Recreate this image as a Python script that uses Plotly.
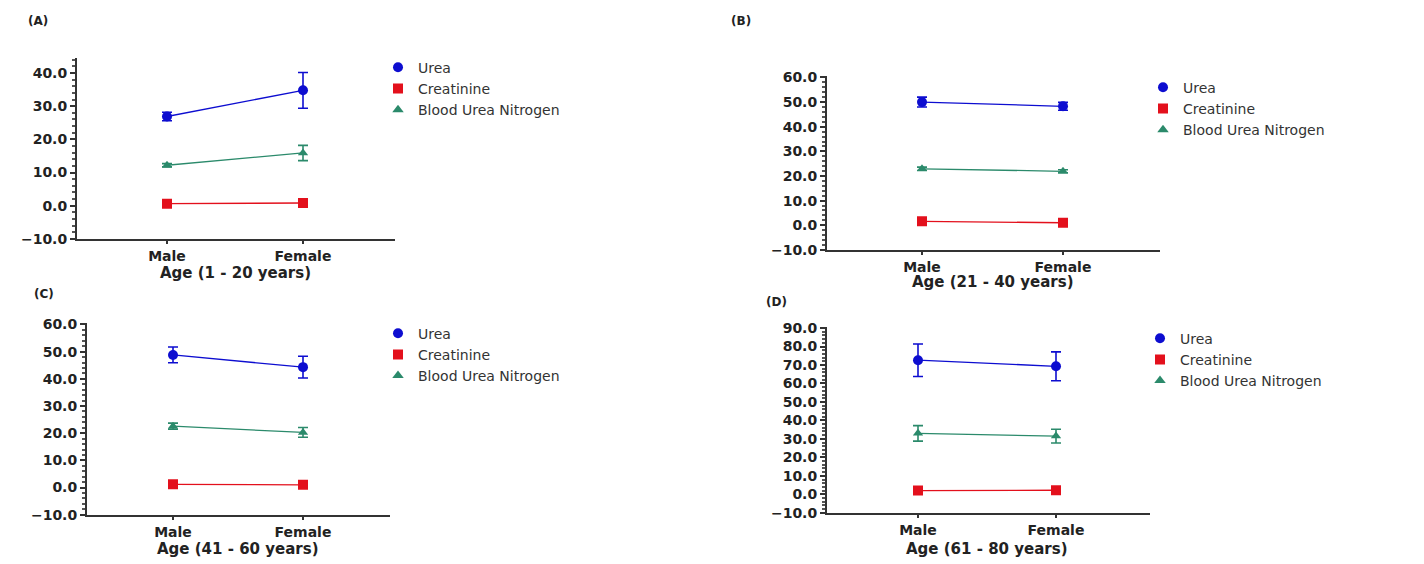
import plotly.graph_objects as go

W, H = 1424, 564
# vertical mapping of the photographed page (measured): shown_y = 7 + 0.97 * page_y
SY_A, SY_S = 7.0, 0.97

categories = ["Male", "Female"]
series_names = ["Urea", "Creatinine", "Blood Urea Nitrogen"]

# Panel A: Age 1-20
urea_A = [26.9, 34.8]
urea_sem_A = [1.3, 5.4]
creat_A = [0.6, 0.8]
creat_sem_A = [0.1, 0.1]
bun_A = [12.2, 15.9]
bun_sem_A = [0.5, 2.3]

# Panel B: Age 21-40
urea_B = [50.0, 48.3]
urea_sem_B = [2.0, 1.6]
creat_B = [1.6, 1.0]
creat_sem_B = [0.2, 0.2]
bun_B = [22.9, 21.9]
bun_sem_B = [0.7, 0.6]

# Panel C: Age 41-60
urea_C = [48.8, 44.3]
urea_sem_C = [2.9, 4.0]
creat_C = [1.2, 1.0]
creat_sem_C = [0.1, 0.1]
bun_C = [22.6, 20.3]
bun_sem_C = [1.1, 1.8]

# Panel D: Age 61-80
urea_D = [72.6, 69.3]
urea_sem_D = [8.8, 7.8]
creat_D = [2.0, 2.2]
creat_sem_D = [0.2, 0.2]
bun_D = [33.0, 31.5]
bun_sem_D = [4.2, 3.7]

panel_labels = ["(A)", "(B)", "(C)", "(D)"]
axis_titles = ["Age (1 - 20 years)", "Age (21 - 40 years)",
               "Age (41 - 60 years)", "Age (61 - 80 years)"]
y_ranges = [[-10, 44.5], [-10, 60.5], [-10, 60.5], [-10, 90.5]]

colors = ["#0d0dd0", "#e3101c", "#2b8a6b"]
symbols = ["circle", "square", "triangle-up"]

panels = [
    (urea_A, urea_sem_A, creat_A, creat_sem_A, bun_A, bun_sem_A),
    (urea_B, urea_sem_B, creat_B, creat_sem_B, bun_B, bun_sem_B),
    (urea_C, urea_sem_C, creat_C, creat_sem_C, bun_C, bun_sem_C),
    (urea_D, urea_sem_D, creat_D, creat_sem_D, bun_D, bun_sem_D),
]

# layout geometry in target picture pixels:
# (axis left, axis right, y bottom(-10), y top, male x, female x)
geom = [
    (77, 395, 238, 58, 167, 303),
    (827, 1160, 249, 76, 922, 1063),
    (87, 390, 513, 322, 173, 303),
    (827, 1150, 511, 326, 918, 1056),
]
legend_first_row = [(378, 68), (1143, 88), (378, 333), (1140, 338)]
label_pos = [(38, 21), (741, 21), (44, 293), (777, 301)]
title_y = [272, 281, 556, 547]


def px(x):
    return x / W


def py(y_shown):
    page = (y_shown - SY_A) / SY_S
    page = min(page, H - 7)
    return 1 - page / H


fig = go.Figure()
tick_font = dict(family="DejaVu Sans", size=14, color="#222222", weight="bold")

for i, data in enumerate(panels):
    xa = "x" if i == 0 else f"x{i+1}"
    ya = "y" if i == 0 else f"y{i+1}"
    lg = "legend" if i == 0 else f"legend{i+1}"
    vals = [(data[0], data[1]), (data[2], data[3]), (data[4], data[5])]
    for k, (v, e) in enumerate(vals):
        fig.add_trace(go.Scatter(
            x=[0, 1], y=v, mode="lines+markers", xaxis=xa, yaxis=ya,
            line=dict(color=colors[k], width=1.3),
            marker=dict(symbol=symbols[k], size=10 if k != 2 else 9, color=colors[k]),
            error_y=dict(type="data", array=e, visible=True, color=colors[k],
                         thickness=1.6, width=5),
            showlegend=False, name=series_names[k]))
    for k in range(3):
        fig.add_trace(go.Scatter(
            x=[None], y=[None], mode="markers", xaxis=xa, yaxis=ya,
            marker=dict(symbol=symbols[k], size=10, color=colors[k]),
            name=series_names[k], legend=lg, showlegend=True))

    x0, x1, yb, yt, xm, xf = geom[i]
    sp = xf - xm
    xr = [-(xm - x0) / sp, (x1 - xm) / sp]
    xkey = "xaxis" if i == 0 else f"xaxis{i+1}"
    ykey = "yaxis" if i == 0 else f"yaxis{i+1}"
    fig.update_layout(**{
        xkey: dict(domain=[px(x0), px(x1)], anchor=ya, range=xr,
                   tickvals=[0, 1], ticktext=categories, showgrid=False,
                   zeroline=False, showline=True, linecolor="#333333", linewidth=2,
                   ticks="outside", ticklen=3, tickwidth=1.5, tickcolor="#333333",
                   tickfont=tick_font),
        ykey: dict(domain=[py(yb), py(yt)], anchor=xa, range=y_ranges[i],
                   tickvals=list(range(-10, int(y_ranges[i][1]) + 1, 10)),
                   tickformat=".1f", showgrid=False, zeroline=False,
                   showline=True, linecolor="#333333", linewidth=2,
                   ticks="outside", ticklen=5, tickwidth=1.5, tickcolor="#333333",
                   minor=dict(ticks="outside", ticklen=3, dtick=2, tickcolor="#555555"),
                   tickfont=tick_font),
    })
    lx, lrow = legend_first_row[i]
    top_page = (lrow - SY_A) / SY_S - 17
    fig.update_layout(**{lg: dict(x=px(lx), y=1 - top_page / H, xanchor="left", yanchor="top",
                                  bgcolor="rgba(0,0,0,0)", borderwidth=0,
                                  font=dict(family="DejaVu Sans", size=14, color="#333333"),
                                  tracegroupgap=0, itemwidth=30)})
    fig.add_annotation(text=axis_titles[i], xref="paper", yref="paper",
                       x=px((xm + xf) / 2), y=py(title_y[i]),
                       showarrow=False, xanchor="center", yanchor="middle",
                       font=dict(family="DejaVu Sans", size=15, color="#222222", weight="bold"))
    lx2, ly2 = label_pos[i]
    fig.add_annotation(text=panel_labels[i], xref="paper", yref="paper",
                       x=px(lx2), y=py(ly2), showarrow=False,
                       xanchor="center", yanchor="middle",
                       font=dict(family="DejaVu Sans", size=12, color="#222222", weight="bold"))

fig.update_layout(width=W, height=H, margin=dict(l=0, r=0, t=0, b=0),
                  plot_bgcolor="white", paper_bgcolor="white")

fig.write_html("out.html", config={"displayModeBar": False},
               post_script="document.body.style.margin='0';document.body.style.overflow='hidden';")
